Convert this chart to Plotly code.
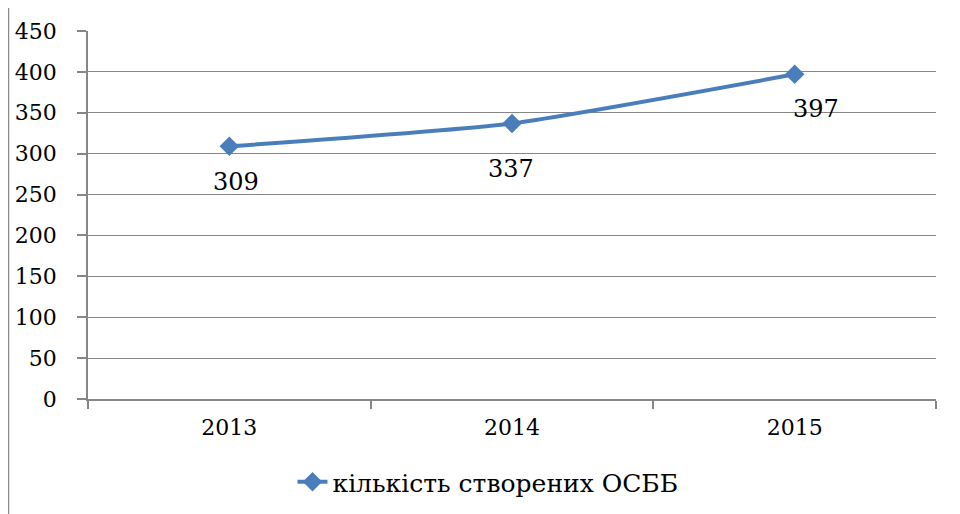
import plotly.graph_objects as go

years = ["2013", "2014", "2015"]
values = [309, 337, 397]
series_name = "кількість створених ОСББ"
y_ticks = [0, 50, 100, 150, 200, 250, 300, 350, 400, 450]

# label offsets (px) as placed in the reference
label_xshift = [7, -1, 21]
label_yshift = [-36, -46, -35]

OFF = 8  # page body margin offset
W, H = 960, 514
L, T = 88 - OFF, 31 - OFF
R = W - (936 - OFF)
B = H - (399 - OFF)
pw, ph = W - L - R, H - T - B

color = "#4a7ebb"
grid = "#868686"
font = "DejaVu Serif"

fig = go.Figure()
fig.add_trace(go.Scatter(
    x=years, y=values, mode="lines+markers", name=series_name,
    line=dict(color=color, width=4, shape="spline", smoothing=0.5),
    marker=dict(symbol="diamond", size=15, color=color),
))

for i, (y, xs, ys) in enumerate(zip(values, label_xshift, label_yshift)):
    fig.add_annotation(x=i, y=y, xref="x", yref="y", text=str(y), showarrow=False,
                       xshift=xs, yshift=ys,
                       font=dict(family=font, size=24, color="black"))

bx = (8 - OFF - L) / pw
by = 1 + (T - (6 - OFF)) / ph
fig.add_shape(type="line", xref="paper", yref="paper", x0=bx, x1=1.2, y0=by, y1=by,
              line=dict(color="#8a8a8a", width=2.5))
fig.add_shape(type="line", xref="paper", yref="paper", x0=bx, x1=bx, y0=by, y1=-0.5,
              line=dict(color="#8a8a8a", width=2.5))

fig.update_layout(
    width=W, height=H,
    margin=dict(l=L, r=R, t=T, b=B, autoexpand=False),
    paper_bgcolor="white", plot_bgcolor="white",
    font=dict(family=font, size=22, color="black"),
    showlegend=True,
    legend=dict(orientation="h", x=(488 - OFF - L) / pw, xanchor="center",
                y=(T + ph - (482 - OFF)) / ph, yanchor="middle",
                font=dict(family=font, size=25, color="black"),
                bgcolor="rgba(0,0,0,0)"),
    xaxis=dict(type="category", range=[-0.5, 2.5], tickson="boundaries",
               ticks="outside", ticklen=8, tickcolor=grid, tickwidth=1.5,
               showgrid=False, showline=True, linecolor=grid, linewidth=1.5,
               tickfont=dict(family=font, size=22), ticklabelstandoff=8,
               zeroline=False),
    yaxis=dict(range=[0, 450], tickvals=y_ticks, ticks="outside", ticklen=9,
               tickcolor=grid, tickwidth=1.5, showgrid=True, gridcolor=grid,
               gridwidth=1.2, showline=True, linecolor=grid, linewidth=1.5,
               zeroline=False, tickfont=dict(family=font, size=22),
               ticklabelstandoff=16),
)

fig.write_html("out.html")
